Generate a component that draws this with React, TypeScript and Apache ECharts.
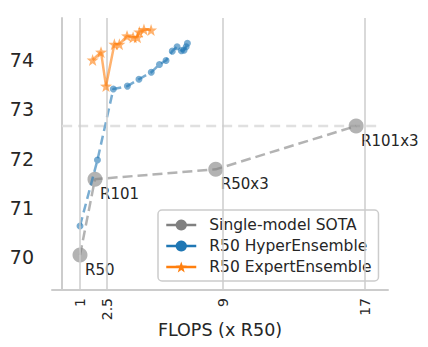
import React, { useEffect, useRef } from "react";
import * as echarts from "echarts";

const xTicks = [1, 2.5, 9, 17];
const yTicks = [70, 71, 72, 73, 74];

const sotaNames = ["R50", "R101", "R50x3", "R101x3"];
const sotaFlops = [1.0, 1.84, 8.62, 16.5];
const sotaAcc = [70.04, 71.58, 71.78, 72.66];

const hyperFlops = [1.0, 1.98, 2.87, 3.66, 4.31, 5.0, 5.46, 5.83, 6.18, 6.45, 6.69, 6.84, 6.96, 7.03];
const hyperAcc = [70.63, 71.97, 73.41, 73.47, 73.61, 73.75, 73.91, 73.99, 74.18, 74.27, 74.19, 74.2, 74.27, 74.34];

const expertFlops = [1.71, 2.18, 2.46, 2.93, 3.21, 3.64, 3.98, 4.22, 4.33, 4.59, 4.99];
const expertAcc = [74.0, 74.16, 73.47, 74.32, 74.32, 74.49, 74.46, 74.46, 74.57, 74.62, 74.61];

const refLineFlops = [0, 17.7];
const refLineAcc = 72.66;

function starPath(): string {
  const pts: string[] = [];
  for (let i = 0; i < 10; i++) {
    const r = i % 2 === 0 ? 50 : 20;
    const a = (-90 + i * 36) * (Math.PI / 180);
    pts.push(`${(50 + r * Math.cos(a)).toFixed(2)} ${(50 + r * Math.sin(a)).toFixed(2)}`);
  }
  return "path://M" + pts.join(" L") + " Z";
}
const STAR = starPath();

const FONT = "DejaVu Sans";
const TXT = "#262626";

export default function App() {
  const ref = useRef<HTMLDivElement>(null);
  useEffect(() => {
    document.body.style.margin = "0";
    if (!ref.current) return;
    const chart = echarts.init(ref.current, undefined, { renderer: "svg" });
    const gray = "#808080";
    const blue = "#1f77b4";
    const orange = "#ff7f0e";
    chart.setOption({
      animation: false,
      textStyle: { fontFamily: FONT },
      grid: { left: 52, right: 40, top: 18, bottom: 57, outerBoundsMode: "none", containLabel: false },
      xAxis: {
        type: "value",
        min: -0.572,
        max: 18.29,
        axisLine: { show: true, lineStyle: { color: "#cccccc", width: 2 } },
        axisTick: { show: false },
        splitLine: { show: false },
        axisLabel: {
          customValues: xTicks,
          rotate: 90,
          fontSize: 14,
          color: TXT,
          fontFamily: FONT,
          margin: 8,
          formatter: (v: number) => String(v),
        },
        name: "FLOPS (x R50)",
        nameLocation: "middle",
        nameGap: 31,
        nameMoveOverlap: false,
        nameTextStyle: { fontSize: 17.5, color: TXT, fontFamily: FONT },
      },
      yAxis: {
        type: "value",
        min: 69.33,
        max: 74.853,
        axisLine: { show: true, lineStyle: { color: "#cccccc", width: 2 } },
        axisTick: { show: false },
        splitLine: { show: false },
        axisLabel: {
          customValues: yTicks,
          fontSize: 19,
          color: TXT,
          fontFamily: FONT,
          margin: 18,
          formatter: (v: number) => String(v),
        },
      },
      legend: {
        left: 158,
        top: 210,
        orient: "vertical",
        itemWidth: 30,
        itemHeight: 14,
        itemGap: 5,
        padding: [7, 7, 6, 7],
        borderColor: "#cccccc",
        borderWidth: 1.5,
        borderRadius: 4,
        backgroundColor: "rgba(255,255,255,0.8)",
        textStyle: { fontSize: 15.5, color: TXT, fontFamily: FONT, padding: [0, 0, 0, 8] },
        data: [
          { name: "Single-model SOTA", itemStyle: { color: gray, opacity: 1 }, lineStyle: { color: gray, opacity: 1, type: "solid", width: 2.5 } },
          { name: "R50 HyperEnsemble", itemStyle: { color: blue, opacity: 1 }, lineStyle: { color: blue, opacity: 1, type: "solid", width: 2.5 } },
          { name: "R50 ExpertEnsemble", itemStyle: { color: orange, opacity: 1 }, lineStyle: { color: orange, opacity: 1, type: "solid", width: 2.5 } },
        ],
      },
      series: [
        {
          type: "line",
          name: "grid",
          data: [],
          silent: true,
          z: 0,
          markLine: {
            silent: true,
            symbol: "none",
            label: { show: false },
            lineStyle: { color: "#cccccc", width: 1.5, type: "solid" },
            data: xTicks.map((v) => ({ xAxis: v })),
          },
        },
        {
          type: "line",
          name: "best",
          silent: true,
          z: 1,
          symbol: "none",
          lineStyle: { color: "#e0e0e0", width: 2.5, type: [10, 6] },
          data: refLineFlops.map((x) => [x, refLineAcc]),
        },
        {
          type: "line",
          name: "Single-model SOTA",
          z: 3,
          symbol: "circle",
          symbolSize: 15,
          itemStyle: { color: gray, opacity: 0.6 },
          lineStyle: { color: gray, opacity: 0.6, width: 2.5, type: [10, 5] },
          label: {
            show: true,
            formatter: "{b}",
            position: [12.5, 22],
            align: "left",
            verticalAlign: "middle",
            fontSize: 15,
            color: TXT,
            opacity: 1,
            fontFamily: FONT,
          },
          data: sotaFlops.map((x, i) => ({ name: sotaNames[i], value: [x, sotaAcc[i]] })),
        },
        {
          type: "line",
          name: "R50 HyperEnsemble",
          z: 4,
          symbol: "circle",
          symbolSize: 7,
          itemStyle: { color: blue, opacity: 0.6 },
          lineStyle: { color: blue, opacity: 0.6, width: 2.5, type: [9, 5] },
          data: hyperFlops.map((x, i) => [x, hyperAcc[i]]),
        },
        {
          type: "line",
          name: "R50 ExpertEnsemble",
          z: 5,
          symbol: STAR,
          symbolSize: 12,
          itemStyle: { color: orange, opacity: 0.6 },
          lineStyle: { color: orange, opacity: 0.6, width: 2.5, type: "solid" },
          data: expertFlops.map((x, i) => [x, expertAcc[i]]),
        },
      ],
    });
    return () => chart.dispose();
  }, []);
  return <div ref={ref} style={{ width: 428, height: 347 }} />;
}
